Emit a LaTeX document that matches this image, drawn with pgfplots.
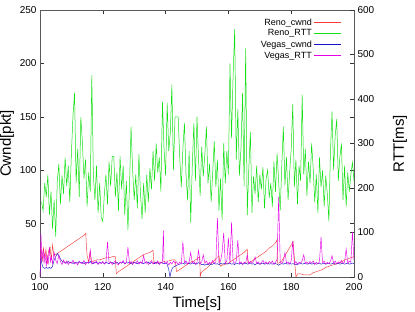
\documentclass[border=0pt]{standalone}
\usepackage{pgfplots}
\pgfplotsset{compat=1.18}
\usepackage{fontspec}
\setmainfont{Liberation Sans}
\definecolor{cred}{RGB}{245,60,60}
\definecolor{cgreen}{RGB}{20,225,20}
\definecolor{cblue}{RGB}{20,20,200}
\definecolor{cmag}{RGB}{230,0,230}
\begin{document}
\begin{tikzpicture}
\pgfplotsset{
  common/.style={
    scale only axis, width=314pt, height=267pt,
    xmin=100, xmax=200,
    tick align=inside, major tick length=4pt,
    /pgf/number format/assume math mode=true,
    tick label style={font=\fontsize{10}{11}\selectfont},
    label style={font=\fontsize{15}{17}\selectfont},
    axis line style={black!65},
    every tick/.style={black!80},
  }
}
\begin{axis}[common,
  ymin=0, ymax=250,
  xtick={100,120,...,200}, ytick={0,50,...,250},
  xticklabel style={yshift=-3pt},
  xlabel={Time[s]}, ylabel={Cwnd[pkt]},
  xlabel style={yshift=1pt},
  ylabel style={yshift=-1pt},
]
\coordinate (bl) at (rel axis cs:0,0);
\coordinate (tr) at (rel axis cs:1,1);
\addplot[cred, line width=0.45pt] coordinates {
(100.0,0) (100.3,28) (100.7,14) (101.1,27) (101.5,18) (101.9,26) (102.3,12) (102.7,24) (103.2,28) (103.6,16) (104.0,30) (104.4,20)
(105,21) (106,23) (107,25) (108,27) (109,29) (110,31) (111,33) (112,35) (113,37) (114,39) (114.6,41) (114.7,33) (115,20) (115.5,14)
(116,24) (116.3,14) (117,15) (118,16) (119,16) (120,17) (121,18) (122,18) (123,19) (124,19) (124.3,3) (125,5) (126,7) (127,9)
(128,11) (129,13) (130,15) (131,17) (132,19) (133,21) (134,22) (135,23) (136,25) (136.3,13) (137,13) (138,14) (139,14) (140,15)
(141,15) (142,16) (143,16) (143.5,5) (144,6) (145,8) (146,10) (147,12) (148,14) (149,15) (150,17) (150.9,19) (151,0) (151.3,4)
(152,6) (153,8) (154,11) (155,14) (156,17) (157,20) (157.4,10) (158,11) (159,12) (160,13) (161,15) (162,17) (163,19) (164,21)
(165,23) (166,26) (166.2,13) (167,14) (168,16) (169,18) (170,20) (171,22) (172,24) (173,27) (174,29) (175,32) (175.5,35) (175.7,13)
(176,13) (177,15) (178,20) (179,25) (180,30) (180.6,33) (181.5,0) (182,3) (183,3) (184,2) (185,2) (186,2) (187,4) (188,5) (189,6)
(190,7) (191,9) (192,10) (193,11) (194,12) (195,13) (196,14) (197,16) (198,17) (199,18) (200,19)
};
\addplot[cblue, line width=0.45pt] coordinates {
(100.0,0) (100.3,20) (100.6,12) (101.0,9) (101.5,8) (102.0,9) (102.5,8) (103.0,9) (103.5,8) (104.0,10) (104.5,16) (105.0,19)
(105.5,22) (106.0,20) (106.5,17) (107.0,15) (107.5,14) (108,14) (108.5,13) (109,14.5) (109.5,13) (110,14) (110.5,12.5) (111,14)
(111.5,13.5) (112,13) (112.5,14.5) (113,13) (113.5,14) (114,12.5) (114.5,13.5) (115,14) (115.5,13) (116,14.5) (116.5,13) (117,12.5)
(117.5,14) (118,13.5) (118.5,12.5) (119,14) (119.5,13) (120,13.5) (120.5,12.5) (121,14) (121.5,13) (122,12.5) (122.5,14) (123,13.5)
(123.5,12.5) (124,13) (124.5,14) (125,12.5) (125.5,13.5) (126,13) (126.5,14) (127,12.5) (127.5,13.5) (128,13) (128.5,14) (129,12.5)
(129.5,13) (130,14) (130.5,13) (131,12.5) (131.5,13.5) (132,14) (132.5,13) (133,12.5) (133.5,13.5) (134,13) (134.5,14) (135,12.5)
(135.5,13.5) (136,13) (136.5,12.5) (137,14) (137.5,13) (138,12.5) (138.5,13.5) (139,13) (139.5,12.5) (140,13) (140.5,12) (141,7)
(141.4,0) (141.8,6) (142.3,9) (143,10) (143.5,11) (144,11.5) (144.5,12) (145,12.5) (145.5,13) (146,12) (146.5,13.5) (147,12.5)
(147.5,13) (148,12) (148.5,13.5) (149,12.5) (149.5,13) (150,12) (150.5,13.5) (151,12.5) (151.5,11.5) (152,12) (152.5,11) (153,12)
(153.5,11.5) (154,12.5) (154.5,11.5) (155,12) (155.5,13) (156,12) (156.5,12.5) (157,11.5) (157.5,13) (158,12) (158.5,12.5) (159,13)
(159.5,12) (160,12.5) (160.5,13) (161,12) (161.5,12.5) (162,11.5) (162.5,13) (163,12.5) (163.5,12) (164,13) (164.5,12) (165,12.5)
(165.5,13) (166,12) (166.5,12.5) (167,13) (167.5,12) (168,12.5) (168.5,11.5) (169,12.5) (169.5,13) (170,12) (170.5,12.5) (171,13)
(171.5,12) (172,12.5) (172.5,13) (173,12) (173.5,12.5) (174,12) (174.5,13) (175,12.5) (175.5,12) (176,11) (176.5,12) (177,12.5)
(177.5,12) (178,13) (178.5,12.5) (179,12) (179.5,13) (180,12) (180.5,12.5) (181,12) (181.5,11.5) (182,12.5) (182.5,12) (183,13)
(183.5,12) (184,12.5) (184.5,13) (185,12) (185.5,12.5) (186,13) (186.5,12) (187,12.5) (187.5,13) (188,12) (188.5,12.5) (189,13)
(189.5,12) (190,12.5) (190.5,13) (191,12) (191.5,12.5) (192,13) (192.5,12) (193,12.5) (193.5,13) (194,12) (194.5,12.5) (195,13)
(195.5,12) (196,12.5) (196.5,13) (197,12) (197.5,12.5) (198,13) (198.5,12) (199,12.5) (199.5,13) (200,12.5)
};
\end{axis}
\begin{axis}[common,
  ymin=0, ymax=600, ytick={0,100,...,600},
  axis x line=none, axis y line*=right, ytick pos=right,
  ylabel={RTT[ms]},
  ylabel style={yshift=-12pt},
  legend style={draw=none, fill=none, at={(rel axis cs:0.965,0.98)}, anchor=north east,
    font=\fontsize{9}{10}\selectfont, row sep=-0.8pt, inner sep=1pt},
  legend cell align=right,
  legend plot pos=right,
]
\addlegendimage{legend image code/.code={\draw[cred, line width=1pt] (0pt,0pt) -- (27pt,0pt);}}
\addlegendentry{Reno\_cwnd}
\addlegendimage{legend image code/.code={\draw[cgreen, line width=1pt] (0pt,0pt) -- (27pt,0pt);}}
\addlegendentry{Reno\_RTT}
\addlegendimage{legend image code/.code={\draw[cblue, line width=1pt] (0pt,0pt) -- (27pt,0pt);}}
\addlegendentry{Vegas\_cwnd}
\addlegendimage{legend image code/.code={\draw[cmag, line width=1pt] (0pt,0pt) -- (27pt,0pt);}}
\addlegendentry{Vegas\_RTT}
\addplot[cgreen, line width=0.5pt, forget plot] coordinates {
(100.5,168) (101,149) (101.5,211) (102,180) (102.5,230) (103,139) (103.5,192) (104,108) (104.5,173) (105,91) (105.5,216) (106,254)
(106.5,163) (107,228) (107.5,187) (108,269) (108.5,204) (109,250) (109.5,168) (110,278) (110.5,362) (111,413) (111.5,211) (112,288)
(112.5,180) (113,360) (113.5,302) (114,221) (114.5,264) (115,158) (115.5,235) (116,192) (116.5,454) (117,228) (117.5,173) (118,250)
(118.5,144) (119,211) (119.5,134) (120,125) (120.5,187) (121,230) (121.5,163) (122,259) (122.5,204) (123,271) (123.5,271) (124,180)
(124.5,235) (125,149) (125.5,271) (126,197) (126.5,250) (127,139) (127.5,216) (128,106) (128.5,204) (129,338) (129.5,240) (130,173)
(130.5,230) (131,154) (131.5,276) (132,187) (132.5,130) (133,211) (133.5,144) (134,230) (134.5,168) (135,245) (135.5,197) (136,283)
(136.5,216) (137,300) (137.5,235) (138,269) (138.5,192) (139,394) (139.5,288) (140,228) (140.5,391) (141,283) (141.5,324) (142,432)
(142.5,240) (143,360) (143.5,360) (144,360) (144.5,269) (145,202) (145.5,288) (146,346) (146.5,230) (147,173) (147.5,283) (148,122)
(148.5,252) (149,346) (149.5,216) (150,360) (150.5,264) (151,182) (151.5,293) (152,226) (152.5,276) (153,338) (153.5,211) (154,254)
(154.5,168) (155,235) (155.5,305) (156,202) (156.5,264) (157,149) (157.5,221) (158,127) (158.5,300) (159,211) (159.5,283) (160,230)
(160.5,480) (161,312) (161.5,454) (162,557) (162.5,264) (163,377) (163.5,228) (164,288) (164.5,413) (165,204) (165.5,514) (166,139)
(166.5,245) (167,326) (167.5,144) (168,226) (168.5,187) (169,250) (169.5,168) (170,230) (170.5,197) (171,247) (171.5,154) (172,221)
(172.5,240) (173,178) (173.5,211) (174,158) (174.5,259) (175,192) (175.5,278) (176,216) (176.5,149) (177,250) (177.5,338) (178,206)
(178.5,269) (179,173) (179.5,235) (180,288) (180.5,389) (181,202) (181.5,264) (182,163) (182.5,250) (183,216) (183.5,410) (184,230)
(184.5,288) (185,182) (185.5,259) (186,211) (186.5,300) (187,245) (187.5,168) (188,230) (188.5,144) (189,269) (189.5,202) (190,240)
(190.5,158) (191,228) (191.5,187) (192,125) (192.5,283) (193,372) (193.5,240) (194,317) (194.5,355) (195,216) (195.5,269) (196,300)
(196.5,173) (197,250) (197.5,158) (198,235) (198.5,192) (199,230) (199.5,257) (200,216)
};
\addplot[cmag, line width=0.45pt, forget plot] coordinates {
(100.0,5) (100.3,98) (100.6,40) (101.0,62) (101.3,30) (101.6,55) (102.0,24) (102.3,50) (102.6,28) (103.0,67) (103.3,35) (103.6,45)
(104.0,30) (104.5,55) (105.0,38) (105.5,30) (106.0,50) (106.5,35) (107,28) (107.5,38) (108,30) (108.5,36) (109,28) (109.5,34)
(110,31) (110.5,38) (111,29) (111.5,33) (112,27) (112.5,35) (113,32) (113.5,30) (114,37) (114.5,28) (115,33) (115.5,31) (116,60)
(116.5,29) (117,34) (117.5,31) (118,36) (118.5,28) (119,33) (119.5,30) (120,35) (120.5,29) (121,32) (121.5,79) (122,30) (122.5,34)
(123,28) (123.5,33) (124,36) (124.5,30) (125,27) (125.5,34) (126,31) (126.5,37) (127,29) (127.5,33) (128,67) (128.5,30) (129,35)
(129.5,28) (130,33) (130.5,31) (131,36) (131.5,29) (132,34) (132.5,30) (133,48) (133.5,31) (134,35) (134.5,28) (135,32) (135.5,37)
(136,29) (136.5,34) (137,30) (137.5,36) (138,28) (138.5,33) (139,31) (139.3,105) (139.5,35) (140,30) (140.5,35) (141,27) (141.5,33)
(142,29) (142.5,36) (143,31) (143.5,34) (144,28) (144.5,33) (145,30) (145.5,79) (146,32) (146.5,36) (147,29) (147.5,34) (148,55)
(148.5,31) (149,35) (149.5,28) (150,33) (150.5,60) (151,30) (151.5,34) (152,50) (152.5,31) (153,36) (153.5,29) (154,33) (154.5,30)
(155,37) (155.5,31) (156,34) (156.5,133) (157,32) (157.5,36) (158,55) (158.5,99) (159,31) (159.5,35) (160,88) (160.5,30) (161,123)
(161.5,34) (162,31) (162.5,36) (163,83) (163.5,30) (164,34) (164.5,28) (165,33) (165.5,31) (166,50) (166.5,29) (167,35) (167.5,31)
(168,36) (168.5,45) (169,30) (169.5,34) (170,28) (170.5,33) (171,37) (171.5,30) (172,34) (172.5,29) (173,35) (173.5,31) (174,36)
(174.5,28) (175,33) (175.5,40) (176,180) (176.5,33) (177,30) (177.5,36) (178,55) (178.5,31) (179,34) (179.5,29) (180,36) (180.5,81)
(181,30) (181.5,35) (182,28) (182.5,33) (183,31) (183.5,37) (184,50) (184.5,30) (185,34) (185.5,29) (186,35) (186.5,31) (187,36)
(187.5,28) (188,33) (188.5,30) (189,34) (189.5,90) (190,31) (190.5,36) (191,29) (191.5,33) (192,30) (192.5,35) (193,48) (193.5,31)
(194,36) (194.5,29) (195,34) (195.5,31) (196,37) (196.5,30) (197,34) (197.5,63) (198,31) (198.5,36) (199,33) (199.5,101) (200,38)
};
\end{axis}
\pgfresetboundingbox
\path[use as bounding box] ([shift={(-40pt,-35pt)}]bl) rectangle ([shift={(61pt,10pt)}]tr);
\end{tikzpicture}
\end{document}
